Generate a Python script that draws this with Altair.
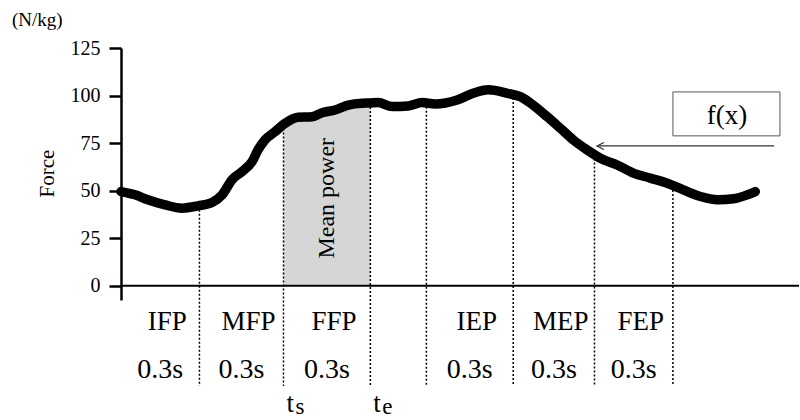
import altair as alt
import pandas as pd

# Force trace (N/kg) against time (s)
time_s = [0.0, 0.05, 0.096, 0.157, 0.218, 0.275, 0.325, 0.361, 0.396, 0.432,
          0.468, 0.489, 0.514, 0.55, 0.58, 0.632, 0.682, 0.718, 0.764, 0.811,
          0.861, 0.89, 0.918, 0.968, 1.025, 1.075, 1.121, 1.2, 1.257, 1.311,
          1.379, 1.425, 1.471, 1.521, 1.568, 1.614, 1.664, 1.711, 1.771, 1.829,
          1.889, 1.95, 2.007, 2.068, 2.129, 2.186, 2.236, 2.264]
force = [49.5, 47.8, 45.2, 42.5, 40.8, 42.0, 43.8, 47.8, 55.7, 60.0,
         65.3, 71.4, 76.7, 81.0, 84.8, 88.6, 88.9, 91.0, 92.4, 95.0,
         96.0, 96.1, 96.3, 94.2, 94.5, 96.3, 95.6, 97.7, 101.2, 103.0,
         101.2, 99.4, 95.0, 88.9, 82.8, 76.7, 71.4, 67.0, 63.5, 59.2,
         56.6, 53.9, 50.4, 46.9, 45.2, 45.7, 47.8, 49.5]

# Phases of the movement
phase_names = ["IFP", "MFP", "FFP", "IEP", "MEP", "FEP"]
phase_start = [0.0, 0.28, 0.58, 1.09, 1.40, 1.69]
phase_end = [0.28, 0.58, 0.89, 1.40, 1.69, 1.97]
phase_length = ["0.3s", "0.3s", "0.3s", "0.3s", "0.3s", "0.3s"]

# Phase boundaries and the force level where each one meets the trace
marker_time = [0.28, 0.58, 0.89, 1.09, 1.40, 1.69, 1.97]
marker_force = [42.0, 84.8, 96.1, 96.2, 100.8, 69.0, 52.5]

# Mean-power window
t_start, t_end = 0.58, 0.89
window_main = ["t", "t"]
window_sub = ["s", "e"]
window_time = [t_start, t_end]

y_ticks = [0, 25, 50, 75, 100, 125]

curve = pd.DataFrame({"t": time_s, "force": force})
phases = pd.DataFrame({"name": phase_names, "start": phase_start,
                       "end": phase_end, "length": phase_length})
markers = pd.DataFrame({"t": marker_time, "force": marker_force})
subs = pd.DataFrame({"t": window_time, "main": window_main, "sub": window_sub})
single = pd.DataFrame({"k": [0]})  # one row for stand-alone annotations

SERIF = "Liberation Serif, Times New Roman, serif"
x_scale = alt.Scale(domain=[0, 2.42], nice=False, zero=False)
y_scale = alt.Scale(domain=[-7.5, 125], nice=False, zero=False)
y_axis = alt.Axis(values=y_ticks, grid=False, title="Force")


def X(f):
    return alt.X(f, type="quantitative", scale=x_scale, axis=None)


def Y(f):
    return alt.Y(f, type="quantitative", scale=y_scale, axis=y_axis, title="Force")


def XD(v):
    return alt.XDatum(v, scale=x_scale, axis=None)


def YD(v):
    return alt.YDatum(v, scale=y_scale, axis=y_axis, title="Force")


base_curve = alt.Chart(curve)

shade = base_curve.transform_filter(
    (alt.datum.t >= t_start) & (alt.datum.t <= t_end)
).mark_area(color="#d6d6d6", interpolate="monotone").encode(
    x=X("t"), y=Y("force"), y2=alt.Y2Datum(0)
)

boundaries = alt.Chart(markers).mark_rule(
    color="black", strokeWidth=1.5, strokeDash=[2, 2]
).encode(x=X("t"), y=Y("force"), y2=alt.Y2Datum(-52.7))

x_line = alt.Chart(single).mark_rule(color="black", strokeWidth=2.2).encode(
    x=XD(0), x2=alt.X2Datum(2.42), y=YD(0)
)

trace = base_curve.mark_line(
    color="black", strokeWidth=9.5, strokeJoin="round", strokeCap="round",
    interpolate="monotone"
).encode(x=X("t"), y=Y("force"))

mean_label = alt.Chart(single).mark_text(
    text="Mean power", angle=270, font=SERIF, fontSize=24,
    baseline="middle", align="center", color="black"
).encode(x=XD((t_start + t_end) / 2), y=YD(46))

box = alt.Chart(single).mark_rect(
    fill="white", stroke="#555555", strokeWidth=1
).encode(x=XD(1.97), x2=alt.X2Datum(2.352), y=YD(101.9), y2=alt.Y2Datum(78.8))

box_text = alt.Chart(single).mark_text(
    text="f(x)", font=SERIF, fontSize=27, color="black",
    align="center", baseline="middle"
).encode(x=XD(2.163), y=YD(89.5))

arrow_line = alt.Chart(single).mark_rule(color="#333333", strokeWidth=1.2).encode(
    x=XD(1.699), x2=alt.X2Datum(2.331), y=YD(73.5)
)
arrow_head = alt.Chart(single).mark_point(
    shape="M 2 -1 L 0 0 L 2 1", filled=False, size=49,
    stroke="#333333", strokeWidth=1.2, opacity=1
).encode(x=XD(1.699), y=YD(73.5))

unit = alt.Chart(single).mark_text(
    text="(N/kg)", font=SERIF, fontSize=19, color="black",
    align="left", baseline="alphabetic", dx=-109, dy=-22
).encode(x=XD(0), y=YD(125))

phase_base = alt.Chart(phases).transform_calculate(
    mid="(datum.start + datum.end) / 2"
)
phase_text = phase_base.mark_text(
    font=SERIF, fontSize=27, color="black", align="center",
    baseline="alphabetic", dx=7, dy=44
).encode(x=X("mid"), y=YD(0), text="name:N")

length_text = phase_base.mark_text(
    font=SERIF, fontSize=28, color="black", align="center",
    baseline="alphabetic", dy=92
).encode(x=X("mid"), y=YD(0), text="length:N")

t_main = alt.Chart(subs).mark_text(
    font=SERIF, fontSize=27, color="black", align="left",
    baseline="alphabetic", dx=3, dy=126
).encode(x=X("t"), y=YD(0), text="main:N")

t_sub = alt.Chart(subs).mark_text(
    font=SERIF, fontSize=23, color="black", align="left",
    baseline="alphabetic", dx=12, dy=128
).encode(x=X("t"), y=YD(0), text="sub:N")

chart = alt.layer(
    shade, boundaries, x_line, trace, mean_label, box, box_text,
    arrow_line, arrow_head, unit, phase_text, length_text, t_main, t_sub
).properties(
    width=678, height=252,
    autosize=alt.AutoSizeParams(type="none"),
    padding={"left": 121, "top": 48, "right": 1, "bottom": 120},
    background="white",
).configure_view(stroke=None).configure_axisY(
    domainColor="black", domainWidth=2.5, tickColor="black", tickWidth=2.5,
    tickSize=12, labelFont=SERIF, labelFontSize=20, labelColor="black",
    labelPadding=9, titleFont=SERIF, titleFontSize=21, titleFontWeight="normal",
    titleColor="black", titleAngle=270, titleX=-68, titleY=125,
    titleAlign="center", titleBaseline="alphabetic",
)

chart.save("out.html", embed_options={"renderer": "svg", "actions": False})
